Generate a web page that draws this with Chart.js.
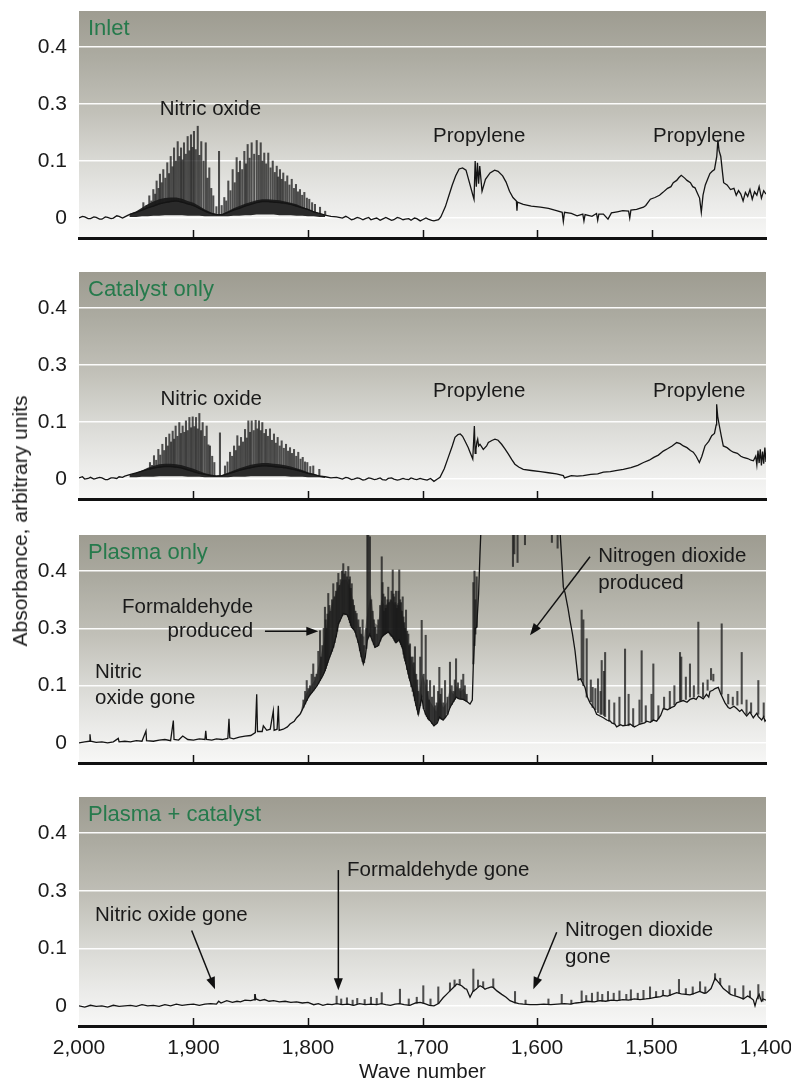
<!DOCTYPE html>
<html>
<head>
<meta charset="utf-8">
<script src="https://cdn.jsdelivr.net/npm/chart.js@4.4.1/dist/chart.umd.min.js"></script>
<style>
  html, body { margin: 0; padding: 0; background: #fff; overflow: hidden; }
  #wrap { position: relative; width: 791px; height: 1080px; font-family: "Liberation Sans", Arial, sans-serif; }
  #wrap canvas { position: absolute; left: 0; }
  #ylab { position: absolute; left: 20px; top: 521px; transform: translate(-50%, -50%) rotate(-90deg);
          white-space: nowrap; font-size: 21px; color: #1a1a1a; }
</style>
</head>
<body>
<div id="wrap">
  <canvas id="p1" width="791" height="250" style="top:0px"></canvas>
  <canvas id="p2" width="791" height="250" style="top:260px"></canvas>
  <canvas id="p3" width="791" height="255" style="top:520px"></canvas>
  <canvas id="p4" width="791" height="306" style="top:780px"></canvas>
  <div id="ylab">Absorbance, arbitrary units</div>
</div>
<script>
// axis ticks
const waveTicks = [2000, 1900, 1800, 1700, 1600, 1500, 1400];
const waveTickLabels = ['2,000', '1,900', '1,800', '1,700', '1,600', '1,500', '1,400'];
const absTicks = [0, 0.1, 0.2, 0.3];
const absTickLabels = ['0', '0.1', '0.3', '0.4'];
const panelTitles = ['Inlet', 'Catalyst only', 'Plasma only', 'Plasma + catalyst'];

// --- Inlet: trace, NO rotational lines, dense band under them ---
const inletX = [2000,1997,1995,1992,1990,1987,1985,1982,1980,1977,1975,1972,1970,1967,1965,1962,1960,1957,1955,1950,1945,1940,1935,1930,1925,1920,1915,1910,1905,1900,1895,1890,1885,1880,1875,1870,1865,1860,1855,1850,1845,1840,1835,1830,1825,1820,1815,1810,1805,1800,1795,1790,1785,1780,1775,1770,1767,1765,1762,1760,1757,1755,1752,1750,1747,1745,1742,1740,1737,1735,1732,1730,1727,1725,1722,1720,1717,1715,1712,1710,1707,1705,1702,1700,1697,1695,1692,1690,1686,1684,1680,1677,1674,1671,1668,1665,1662,1659,1656,1655,1654,1653,1652,1651,1650,1648,1645,1641,1637,1634,1630,1627,1624,1621,1618,1617.5,1617,1612,1605,1597,1590,1583,1578,1577,1576,1570,1565,1560,1559,1558,1552,1548,1547,1546,1542,1538,1535,1530,1525,1520,1519,1518,1513,1507,1505,1501,1497,1493,1490,1486,1483,1481,1478,1476,1474,1471,1469,1466,1464,1462,1460,1458,1456.5,1455,1453,1451,1449,1447,1445,1443,1442,1441,1439.5,1438,1437,1434,1431,1428,1426,1424,1422,1420,1418,1416,1414,1412,1410,1408,1406,1404,1402,1400];
const inletY = [0.000,0.003,0.002,-0.001,-0.001,0.002,0.001,-0.002,-0.002,0.002,0.001,-0.001,0.000,0.004,0.003,0.000,0.002,0.005,0.007,0.010,0.014,0.018,0.021,0.025,0.027,0.029,0.030,0.028,0.025,0.022,0.017,0.012,0.008,0.006,0.006,0.010,0.014,0.017,0.021,0.024,0.027,0.029,0.029,0.028,0.027,0.026,0.024,0.021,0.018,0.015,0.011,0.008,0.005,0.003,0.002,0.000,0.003,0.001,-0.003,-0.002,0.001,0.000,-0.003,-0.001,0.001,-0.003,-0.001,0.000,-0.004,-0.002,0.001,-0.001,-0.004,-0.003,0.001,0.000,-0.003,-0.002,-0.001,-0.004,0.000,-0.001,-0.005,-0.003,0.000,-0.002,-0.004,-0.005,-0.003,0.002,0.020,0.039,0.058,0.074,0.086,0.088,0.084,0.062,0.040,0.033,0.100,0.055,0.097,0.060,0.091,0.047,0.068,0.079,0.084,0.082,0.074,0.063,0.047,0.036,0.030,0.013,0.028,0.024,0.021,0.019,0.017,0.013,0.010,-0.006,0.010,0.008,0.004,0.007,-0.005,0.006,0.003,0.008,-0.004,0.007,0.007,-0.002,0.009,0.011,0.013,0.012,0.000,0.014,0.015,0.019,0.022,0.033,0.036,0.040,0.045,0.052,0.055,0.062,0.066,0.071,0.075,0.070,0.066,0.062,0.055,0.053,0.044,0.035,0.010,0.040,0.058,0.068,0.078,0.082,0.085,0.108,0.137,0.118,0.108,0.080,0.062,0.058,0.050,0.052,0.040,0.048,0.042,0.030,0.045,0.038,0.050,0.033,0.046,0.040,0.055,0.035,0.048,0.042];
const inletLineX = [1943.8,1941.0,1938.6,1936.8,1935.1,1933.5,1932.2,1930.6,1929.3,1927.8,1926.4,1924.6,1922.9,1921.4,1919.9,1918.4,1917.0,1915.4,1913.8,1912.3,1910.9,1909.6,1908.3,1906.7,1905.1,1903.6,1902.2,1900.9,1899.6,1898.0,1896.3,1894.8,1893.2,1891.2,1889.3,1887.8,1886.2,1884.5,1882.7,1880.0,1877.7,1875.4,1873.1,1871.4,1869.6,1867.7,1865.8,1864.0,1862.3,1860.8,1859.4,1857.5,1855.6,1854.2,1852.7,1851.0,1849.2,1847.0,1844.8,1843.0,1841.3,1839.8,1838.2,1836.5,1834.7,1832.7,1830.8,1829.0,1827.3,1826.0,1824.5,1823.0,1821.6,1819.8,1818.1,1816.2,1814.2,1812.3,1810.5,1808.8,1807.0,1805.1,1803.2,1801.0,1798.9,1796.4,1793.9,1789.5,1785.0];
const inletLineLow = [0.015,0.017,0.019,0.020,0.021,0.022,0.023,0.024,0.025,0.026,0.027,0.027,0.028,0.028,0.029,0.029,0.030,0.030,0.030,0.029,0.028,0.027,0.027,0.026,0.025,0.024,0.024,0.022,0.021,0.020,0.019,0.017,0.015,0.013,0.011,0.010,0.009,0.008,0.007,0.006,0.006,0.006,0.007,0.008,0.010,0.012,0.013,0.015,0.016,0.017,0.018,0.020,0.021,0.022,0.023,0.024,0.025,0.026,0.027,0.028,0.029,0.029,0.029,0.029,0.029,0.028,0.028,0.027,0.027,0.027,0.027,0.026,0.026,0.025,0.025,0.024,0.024,0.022,0.021,0.020,0.019,0.018,0.017,0.015,0.014,0.012,0.010,0.008,0.005];
const inletLineHigh = [0.027,0.022,0.039,0.030,0.050,0.042,0.065,0.052,0.077,0.062,0.085,0.070,0.097,0.078,0.108,0.090,0.123,0.100,0.134,0.108,0.123,0.102,0.132,0.112,0.143,0.118,0.146,0.124,0.152,0.120,0.161,0.110,0.134,0.100,0.132,0.070,0.088,0.052,0.039,0.020,0.117,0.022,0.036,0.030,0.065,0.048,0.085,0.062,0.106,0.080,0.100,0.085,0.117,0.095,0.129,0.105,0.132,0.112,0.136,0.110,0.132,0.100,0.114,0.095,0.114,0.088,0.100,0.080,0.091,0.072,0.085,0.068,0.079,0.064,0.074,0.058,0.068,0.052,0.059,0.046,0.050,0.040,0.045,0.035,0.033,0.027,0.024,0.019,0.012];
const inletBandX = [1956,1950,1945,1940,1935,1930,1925,1920,1915,1910,1905,1900,1895,1890,1885,1880,1875,1870,1865,1860,1855,1850,1845,1840,1835,1830,1825,1820,1815,1810,1805,1800,1795,1790,1785];
const inletBandLow = [0.002,0.002,0.003,0.003,0.004,0.004,0.005,0.005,0.005,0.005,0.004,0.004,0.004,0.003,0.003,0.003,0.003,0.003,0.004,0.004,0.005,0.005,0.006,0.006,0.006,0.006,0.005,0.005,0.005,0.004,0.004,0.003,0.003,0.002,0.002];
const inletBandHigh = [0.007,0.012,0.018,0.024,0.029,0.033,0.035,0.036,0.036,0.034,0.030,0.027,0.021,0.015,0.010,0.007,0.007,0.012,0.017,0.021,0.025,0.028,0.031,0.033,0.033,0.032,0.031,0.029,0.027,0.024,0.020,0.016,0.012,0.008,0.005];

// --- Catalyst only ---
const catalystX = [2000,1997,1995,1992,1990,1987,1985,1982,1980,1977,1975,1972,1970,1967,1965,1962,1960,1955,1950,1945,1940,1935,1930,1925,1920,1915,1910,1905,1900,1895,1890,1885,1880,1875,1870,1865,1860,1855,1850,1845,1840,1835,1830,1825,1820,1815,1810,1805,1800,1795,1790,1785,1780,1775,1770,1767,1765,1762,1760,1757,1755,1752,1750,1747,1745,1742,1740,1737,1735,1732,1730,1727,1725,1722,1720,1717,1715,1712,1710,1707,1705,1702,1700,1696,1693,1690,1687,1684.7,1681,1677.5,1674,1671.6,1669,1667,1665,1663,1660,1658.5,1656.1,1654.7,1654,1653.3,1652.5,1651.8,1651,1649.8,1646.9,1644,1642.5,1639,1636.7,1634,1630.9,1628,1625.1,1622,1619.3,1616,1612,1605,1597,1590,1583,1577,1576,1570,1565,1559.6,1553,1547,1542,1536,1530,1524.6,1518,1512,1507,1502,1498,1494,1489.7,1486,1482,1478,1475,1472.2,1469,1466,1463.5,1461,1458.2,1456,1453.3,1450,1447.4,1445,1443.5,1443.1,1442.2,1440.7,1439,1437.3,1434,1431,1428.5,1425,1422,1419.8,1416,1413,1411,1409,1408,1407,1406,1405,1404,1403,1402,1401,1400];
const catalystY = [0.002,0.004,0.000,0.001,0.003,0.000,0.001,0.003,0.002,-0.001,-0.001,0.002,0.002,0.001,0.004,0.003,0.005,0.008,0.011,0.014,0.017,0.019,0.021,0.022,0.022,0.021,0.019,0.016,0.013,0.010,0.008,0.006,0.005,0.006,0.009,0.012,0.015,0.018,0.020,0.022,0.023,0.023,0.022,0.021,0.020,0.018,0.016,0.013,0.010,0.008,0.005,0.004,0.002,0.003,0.000,0.003,0.002,-0.001,0.000,0.002,0.001,-0.002,-0.001,0.002,0.001,-0.001,0.000,0.002,-0.001,-0.002,0.001,0.002,0.000,-0.002,-0.001,0.001,0.000,-0.001,0.002,0.000,-0.001,0.001,0.000,-0.002,0.001,-0.004,0.000,0.003,0.018,0.038,0.058,0.073,0.078,0.079,0.075,0.067,0.055,0.047,0.035,0.093,0.045,0.052,0.065,0.070,0.058,0.061,0.052,0.058,0.064,0.068,0.070,0.068,0.061,0.053,0.044,0.034,0.026,0.021,0.017,0.015,0.013,0.011,0.009,0.006,0.002,0.006,0.005,0.006,0.008,0.009,0.012,0.013,0.015,0.017,0.020,0.024,0.029,0.033,0.038,0.042,0.049,0.053,0.058,0.064,0.062,0.058,0.055,0.050,0.047,0.040,0.029,0.040,0.058,0.066,0.076,0.080,0.095,0.131,0.110,0.093,0.075,0.058,0.055,0.050,0.047,0.045,0.040,0.038,0.036,0.033,0.032,0.040,0.025,0.050,0.028,0.052,0.024,0.048,0.027,0.055,0.030];
const catalystLineX = [1938.0,1936.2,1934.5,1932.6,1930.7,1929.0,1927.2,1925.6,1924.0,1922.5,1921.1,1919.6,1918.2,1916.9,1915.6,1914.0,1912.4,1911.0,1909.5,1908.0,1906.6,1905.1,1903.6,1902.1,1900.7,1899.2,1897.8,1896.3,1894.9,1893.4,1892.0,1890.2,1888.5,1887.0,1885.6,1883.7,1881.8,1876.9,1872.5,1870.3,1868.1,1866.3,1864.6,1863.1,1861.7,1860.1,1858.5,1856.8,1855.0,1853.5,1852.1,1850.6,1849.2,1847.4,1845.7,1844.2,1842.8,1841.3,1839.9,1838.2,1836.7,1835.0,1833.2,1831.5,1829.7,1828.1,1826.5,1824.7,1823.0,1821.1,1819.2,1817.4,1815.7,1814.0,1812.2,1810.3,1808.5,1806.5,1804.6,1802.6,1800.6,1798.0,1795.4,1790.1];
const catalystLineLow = [0.017,0.018,0.019,0.020,0.021,0.021,0.022,0.022,0.022,0.022,0.022,0.022,0.022,0.021,0.021,0.021,0.020,0.020,0.019,0.018,0.017,0.016,0.015,0.014,0.013,0.012,0.011,0.011,0.010,0.010,0.009,0.008,0.008,0.007,0.006,0.006,0.005,0.006,0.008,0.009,0.011,0.011,0.012,0.013,0.014,0.015,0.016,0.017,0.018,0.018,0.019,0.019,0.020,0.021,0.022,0.022,0.022,0.023,0.023,0.023,0.023,0.022,0.022,0.022,0.022,0.021,0.021,0.020,0.020,0.019,0.019,0.018,0.018,0.017,0.016,0.015,0.014,0.013,0.012,0.011,0.010,0.009,0.008,0.005];
const catalystLineHigh = [0.029,0.024,0.041,0.033,0.052,0.042,0.061,0.050,0.073,0.058,0.079,0.065,0.084,0.070,0.093,0.075,0.099,0.080,0.093,0.082,0.102,0.085,0.108,0.090,0.109,0.092,0.108,0.088,0.115,0.085,0.099,0.075,0.093,0.060,0.058,0.040,0.029,0.081,0.023,0.030,0.047,0.040,0.058,0.050,0.076,0.058,0.073,0.065,0.087,0.072,0.102,0.082,0.102,0.085,0.103,0.088,0.102,0.085,0.099,0.080,0.087,0.075,0.088,0.068,0.079,0.063,0.073,0.058,0.067,0.054,0.061,0.049,0.055,0.045,0.052,0.040,0.047,0.035,0.038,0.030,0.029,0.022,0.023,0.017];
const catalystBandX = [1956,1950,1945,1940,1935,1930,1925,1920,1915,1910,1905,1900,1895,1890,1885,1880,1875,1870,1865,1860,1855,1850,1845,1840,1835,1830,1825,1820,1815,1810,1805,1800,1795,1790,1785];
const catalystBandLow = [0.003,0.003,0.004,0.004,0.004,0.005,0.005,0.005,0.005,0.005,0.004,0.004,0.004,0.003,0.003,0.003,0.003,0.003,0.004,0.004,0.004,0.005,0.005,0.005,0.005,0.005,0.005,0.005,0.004,0.004,0.004,0.003,0.003,0.003,0.002];
const catalystBandHigh = [0.007,0.011,0.015,0.020,0.023,0.026,0.027,0.027,0.026,0.024,0.021,0.018,0.014,0.010,0.008,0.006,0.007,0.011,0.015,0.019,0.022,0.025,0.027,0.028,0.028,0.027,0.026,0.024,0.022,0.019,0.016,0.012,0.009,0.006,0.005];

// --- Plasma only ---
const plasmaX = [2000,1995,1991,1990.4,1989.8,1985,1980,1975,1970,1965.7,1965,1960,1955,1950,1945,1941.5,1941,1935,1930,1925,1920,1917.6,1917,1913,1909.4,1905,1900,1895,1890,1889.3,1888.6,1884,1880,1875,1870,1869,1868.3,1865,1860,1855,1850,1846,1844.8,1844.1,1840,1839,1836,1833,1830.3,1829.6,1827,1825.9,1825.2,1821.6,1818,1815.7,1812,1809.9,1807,1804.1,1801.1,1799,1795.4,1792,1789.5,1787,1785.2,1782,1777.9,1775,1773.5,1771,1769.2,1766,1764.8,1761.8,1758.9,1756,1754.6,1751.7,1750,1748.2,1746,1743,1741.5,1738.6,1735.6,1732.8,1729.9,1726,1723.1,1720.3,1717.3,1714.4,1710.9,1708,1706.6,1703.7,1700.7,1699,1697.2,1695,1693.4,1690,1687,1685.3,1682,1680.3,1678,1676,1673,1670.7,1668,1664.4,1661,1658.5,1656.5,1655.6,1654,1652.7,1651,1649.8,1648,1646,1640,1630,1620,1600,1590,1582,1579.9,1577,1575.5,1573,1571.2,1569,1566.8,1564,1562,1558.1,1556,1553.7,1550,1547.9,1545,1542,1539.1,1536,1534.7,1532,1530.4,1527,1525,1521,1518.8,1515,1512.9,1510,1506,1504.2,1501,1498.4,1495.5,1492,1489.7,1486,1482.4,1480,1478,1475,1472.2,1469,1466.4,1463.5,1461,1459,1457,1454.8,1452,1450,1448.9,1446.5,1444.5,1441.7,1440,1437,1435.8,1433,1431.4,1428,1425.6,1423,1421.2,1419,1416.9,1414,1411.1,1408,1406.7,1403.8,1402,1400.9,1400];
const plasmaY = [0.000,0.002,0.003,0.015,0.003,0.001,0.002,0.000,0.002,0.008,0.002,0.003,0.002,0.004,0.003,0.021,0.004,0.003,0.005,0.006,0.004,0.039,0.006,0.005,0.012,0.006,0.005,0.007,0.006,0.021,0.006,0.005,0.007,0.006,0.008,0.042,0.009,0.007,0.010,0.012,0.013,0.018,0.085,0.020,0.020,0.030,0.022,0.024,0.056,0.022,0.024,0.065,0.022,0.024,0.028,0.033,0.038,0.044,0.050,0.062,0.074,0.082,0.091,0.100,0.109,0.118,0.126,0.145,0.167,0.190,0.208,0.218,0.226,0.224,0.220,0.202,0.195,0.175,0.161,0.138,0.150,0.180,0.190,0.175,0.167,0.170,0.185,0.190,0.194,0.185,0.175,0.180,0.165,0.138,0.109,0.090,0.074,0.050,0.080,0.060,0.050,0.042,0.039,0.030,0.035,0.045,0.040,0.044,0.050,0.062,0.072,0.080,0.077,0.076,0.072,0.068,0.075,0.138,0.200,0.202,0.260,0.330,0.420,0.500,0.600,0.620,0.600,0.620,0.600,0.520,0.370,0.272,0.262,0.236,0.214,0.190,0.161,0.110,0.112,0.097,0.080,0.070,0.060,0.050,0.047,0.044,0.040,0.038,0.035,0.033,0.028,0.032,0.030,0.031,0.033,0.028,0.030,0.033,0.035,0.038,0.036,0.040,0.038,0.048,0.060,0.058,0.062,0.064,0.070,0.072,0.074,0.071,0.076,0.078,0.076,0.082,0.080,0.077,0.085,0.080,0.090,0.092,0.095,0.097,0.088,0.075,0.070,0.062,0.060,0.064,0.060,0.055,0.058,0.052,0.047,0.054,0.044,0.052,0.046,0.040,0.046,0.038,0.040];
const plasmaLineX = [1804.0,1802.5,1801.1,1799.7,1798.3,1796.8,1795.4,1794.0,1792.5,1791.0,1789.5,1788.5,1787.5,1786.3,1785.2,1784.5,1783.8,1783.0,1782.3,1781.3,1780.3,1779.0,1777.9,1776.8,1775.6,1774.5,1773.5,1772.5,1771.5,1770.3,1769.2,1768.2,1767.2,1766.0,1764.8,1764.0,1763.4,1762.6,1761.8,1760.8,1759.8,1758.6,1757.5,1756.0,1754.6,1753.4,1752.3,1751.0,1749.0,1748.2,1747.3,1745.9,1744.8,1743.6,1742.5,1741.5,1740.0,1738.6,1737.0,1735.6,1734.9,1734.2,1733.5,1732.8,1732.0,1731.3,1730.6,1729.9,1729.0,1727.9,1727.0,1726.0,1725.3,1724.6,1723.8,1723.1,1722.4,1721.7,1721.0,1720.3,1719.5,1718.8,1718.0,1717.3,1716.6,1715.9,1715.2,1714.4,1713.4,1712.4,1711.6,1710.9,1709.8,1708.6,1707.6,1706.6,1705.5,1704.5,1703.7,1702.0,1700.7,1699.0,1697.2,1696.2,1695.2,1694.3,1693.4,1691.7,1690.0,1688.8,1687.6,1686.4,1685.3,1684.3,1683.3,1681.8,1680.3,1678.2,1676.0,1674.5,1673.0,1671.8,1670.7,1669.0,1667.2,1666.0,1664.4,1663.0,1661.4,1655.6,1654.6,1653.8,1652.7,1621.0,1619.8,1617.0,1610.5,1587.0,1582.0,1561.0,1559.5,1556.6,1553.0,1551.4,1549.0,1546.7,1544.5,1543.5,1541.5,1540.5,1537.0,1532.5,1528.0,1523.1,1520.0,1516.0,1510.5,1508.6,1505.0,1500.0,1498.4,1494.0,1489.0,1484.0,1480.0,1475.1,1474.0,1470.0,1466.4,1463.0,1459.1,1455.0,1451.0,1448.0,1446.0,1438.7,1433.0,1429.0,1425.0,1421.2,1417.0,1413.0,1406.7,1402.0];
const plasmaLineLow = [0.062,0.068,0.074,0.080,0.084,0.088,0.091,0.095,0.100,0.104,0.109,0.113,0.118,0.122,0.126,0.130,0.135,0.140,0.145,0.150,0.155,0.160,0.167,0.175,0.185,0.195,0.208,0.212,0.218,0.222,0.226,0.225,0.224,0.224,0.220,0.215,0.210,0.205,0.202,0.200,0.198,0.193,0.185,0.175,0.161,0.150,0.142,0.140,0.165,0.180,0.185,0.190,0.185,0.178,0.172,0.167,0.168,0.170,0.178,0.185,0.187,0.188,0.189,0.190,0.191,0.192,0.193,0.194,0.192,0.188,0.186,0.185,0.182,0.179,0.176,0.175,0.177,0.178,0.179,0.180,0.176,0.172,0.168,0.165,0.155,0.148,0.143,0.138,0.128,0.120,0.113,0.109,0.098,0.090,0.082,0.074,0.065,0.058,0.050,0.065,0.080,0.060,0.050,0.046,0.042,0.040,0.039,0.034,0.030,0.032,0.035,0.040,0.045,0.043,0.041,0.042,0.044,0.050,0.062,0.067,0.072,0.076,0.080,0.078,0.077,0.076,0.076,0.074,0.072,0.138,0.170,0.190,0.202,0.308,0.330,0.315,0.346,0.350,0.340,0.110,0.100,0.080,0.072,0.062,0.058,0.053,0.050,0.050,0.048,0.046,0.038,0.034,0.031,0.032,0.030,0.029,0.033,0.036,0.037,0.037,0.040,0.042,0.060,0.060,0.066,0.074,0.074,0.076,0.080,0.080,0.085,0.080,0.092,0.110,0.108,0.085,0.068,0.066,0.066,0.068,0.050,0.052,0.050,0.046];
const plasmaLineHigh = [0.075,0.090,0.109,0.095,0.100,0.120,0.138,0.115,0.120,0.160,0.196,0.150,0.170,0.200,0.237,0.215,0.200,0.225,0.261,0.240,0.230,0.250,0.278,0.255,0.265,0.280,0.296,0.275,0.285,0.300,0.313,0.295,0.300,0.290,0.308,0.285,0.290,0.270,0.278,0.250,0.240,0.230,0.226,0.215,0.202,0.190,0.215,0.170,0.200,0.500,0.420,0.360,0.250,0.230,0.215,0.202,0.190,0.215,0.240,0.325,0.280,0.260,0.230,0.255,0.235,0.240,0.250,0.272,0.245,0.250,0.265,0.302,0.260,0.255,0.245,0.265,0.235,0.240,0.265,0.302,0.250,0.245,0.230,0.255,0.220,0.210,0.200,0.232,0.195,0.190,0.170,0.173,0.150,0.150,0.140,0.168,0.120,0.110,0.090,0.150,0.214,0.120,0.188,0.110,0.090,0.075,0.109,0.080,0.100,0.065,0.070,0.090,0.132,0.085,0.095,0.070,0.109,0.080,0.141,0.100,0.090,0.110,0.147,0.105,0.095,0.110,0.120,0.100,0.085,0.280,0.300,0.250,0.290,0.500,0.500,0.500,0.500,0.500,0.500,0.232,0.215,0.182,0.110,0.097,0.095,0.112,0.090,0.144,0.125,0.158,0.075,0.070,0.080,0.164,0.085,0.060,0.075,0.161,0.065,0.085,0.138,0.065,0.080,0.090,0.100,0.158,0.150,0.115,0.138,0.100,0.211,0.105,0.110,0.130,0.120,0.208,0.085,0.080,0.090,0.158,0.075,0.070,0.109,0.070];
const plasmaBandX = [1806,1802,1798,1794,1790,1786,1782,1778,1774,1770,1766,1762,1758,1754,1751,1748,1745,1742,1739,1736,1733,1730,1727,1724,1721,1718,1715,1712,1709,1706,1703,1700,1697,1694,1691,1688,1685,1682,1679,1676,1673,1670,1667,1664,1661];
const plasmaBandLow = [0.050,0.070,0.084,0.096,0.107,0.122,0.145,0.167,0.200,0.222,0.224,0.202,0.192,0.158,0.140,0.180,0.188,0.170,0.168,0.182,0.189,0.194,0.188,0.178,0.178,0.168,0.146,0.122,0.098,0.075,0.050,0.078,0.050,0.041,0.033,0.034,0.045,0.040,0.050,0.062,0.072,0.080,0.077,0.076,0.072];
const plasmaBandHigh = [0.060,0.085,0.098,0.110,0.140,0.180,0.225,0.250,0.270,0.285,0.285,0.262,0.225,0.190,0.185,0.230,0.260,0.210,0.205,0.250,0.240,0.245,0.250,0.240,0.245,0.230,0.200,0.170,0.140,0.120,0.085,0.120,0.100,0.075,0.065,0.055,0.080,0.062,0.070,0.095,0.085,0.100,0.090,0.095,0.080];

// --- Plasma + catalyst ---
const comboX = [2000,1995,1990,1985,1980,1975,1970,1965,1960,1955,1950,1945,1940,1935,1930,1925,1920,1915,1910,1905,1900,1895,1890,1885,1880,1878,1876,1871,1866,1862,1859,1855,1850,1847,1846.3,1845.5,1842,1838,1834,1830,1825,1820,1815,1810,1805,1800,1795,1791,1787,1783,1779,1775,1770,1765,1760,1755,1750,1745,1740,1736,1732,1728,1724,1720,1716,1711,1706,1702,1698,1694,1690,1686,1682,1679,1676,1673,1670,1667,1665.8,1663,1661.4,1658.5,1656,1653.3,1651,1649.8,1647,1645.4,1643,1640,1638.2,1635,1630.8,1627,1623.6,1620,1616,1612,1606,1600,1594,1588,1582,1576,1571,1566,1561,1556,1550,1545,1540,1535,1530,1525,1520,1515,1510,1505,1501,1496,1492,1489.7,1486,1482,1478,1474,1470,1466.4,1462,1458,1454,1451.8,1448,1446,1444.5,1442,1440.2,1437.3,1434,1431,1428.5,1425,1422,1419.8,1416,1414,1411,1409.6,1408,1406,1404,1402.4,1400];
const comboY = [0.000,-0.002,0.001,-0.001,0.000,-0.002,0.001,-0.001,0.000,0.001,-0.001,0.002,0.000,0.001,-0.001,0.002,0.000,0.003,0.001,0.002,0.003,0.001,0.003,0.004,0.003,0.008,0.005,0.009,0.006,0.008,0.007,0.010,0.009,0.011,0.020,0.012,0.009,0.011,0.008,0.009,0.007,0.008,0.006,0.007,0.005,0.006,0.002,0.004,0.001,0.003,0.002,0.004,0.002,0.003,0.001,0.004,0.002,0.003,0.002,0.004,0.002,0.001,0.003,0.004,0.002,0.001,0.005,0.006,0.004,0.001,0.000,0.004,0.014,0.020,0.026,0.032,0.038,0.036,0.035,0.030,0.029,0.015,0.025,0.029,0.033,0.035,0.032,0.029,0.031,0.033,0.032,0.026,0.020,0.015,0.009,0.006,0.004,0.003,0.002,0.002,0.003,0.002,0.003,0.004,0.003,0.005,0.006,0.008,0.007,0.009,0.008,0.010,0.009,0.011,0.010,0.012,0.011,0.012,0.013,0.015,0.016,0.018,0.017,0.020,0.023,0.021,0.020,0.019,0.022,0.025,0.022,0.023,0.030,0.040,0.048,0.042,0.038,0.030,0.025,0.020,0.018,0.016,0.014,0.012,0.017,0.015,0.010,0.000,0.012,0.020,0.008,0.012,0.010];
const comboLineX = [1846.3,1775,1771,1766,1761,1757,1750.5,1745,1740,1735.6,1719.7,1712,1705,1699.3,1693,1686.2,1676,1672,1667.5,1655.6,1651.5,1647,1638.2,1619.2,1610,1590,1578.4,1570,1561,1557,1552,1547,1543,1538,1533,1528,1522,1518,1512,1507,1501.3,1496,1490,1484,1476,1470,1464,1457.6,1453,1444.5,1440,1432,1427,1419.8,1414,1406.7,1403];
const comboLineLow = [0.010,0.004,0.002,0.003,0.001,0.004,0.002,0.003,0.002,0.004,0.004,0.001,0.005,0.005,0.001,0.004,0.026,0.034,0.037,0.025,0.033,0.032,0.032,0.005,0.003,0.002,0.004,0.003,0.006,0.008,0.007,0.009,0.008,0.009,0.010,0.010,0.011,0.010,0.011,0.012,0.013,0.015,0.018,0.018,0.022,0.020,0.020,0.025,0.022,0.045,0.038,0.022,0.018,0.012,0.014,0.012,0.008];
const comboLineHigh = [0.020,0.017,0.012,0.014,0.010,0.013,0.011,0.015,0.013,0.023,0.029,0.012,0.015,0.035,0.012,0.033,0.040,0.045,0.046,0.064,0.045,0.042,0.047,0.025,0.010,0.012,0.020,0.010,0.026,0.018,0.022,0.024,0.020,0.025,0.022,0.026,0.020,0.028,0.022,0.027,0.033,0.025,0.027,0.028,0.046,0.030,0.033,0.042,0.033,0.056,0.048,0.035,0.030,0.035,0.026,0.037,0.025];

// annotations, in wave number / absorbance units
const inletNotes = [
  { text: 'Nitric oxide', x: 1885.2, y: 0.190, align: 'center' },
  { text: 'Propylene', x: 1650.5, y: 0.143, align: 'center' },
  { text: 'Propylene', x: 1458.3, y: 0.143, align: 'center' }
];
const catalystNotes = [
  { text: 'Nitric oxide', x: 1884.5, y: 0.140, align: 'center' },
  { text: 'Propylene', x: 1650.5, y: 0.154, align: 'center' },
  { text: 'Propylene', x: 1458.3, y: 0.154, align: 'center' }
];
const plasmaNotes = [
  { text: 'Formaldehyde', x: 1848, y: 0.237, align: 'right' },
  { text: 'produced', x: 1848, y: 0.194, align: 'right' },
  { text: 'Nitric', x: 1986, y: 0.123, align: 'left' },
  { text: 'oxide gone', x: 1986, y: 0.077, align: 'left' },
  { text: 'Nitrogen dioxide', x: 1546.5, y: 0.325, align: 'left' },
  { text: 'produced', x: 1546.5, y: 0.278, align: 'left' }
];
const plasmaArrows = [
  { from: [1837.6, 0.195], to: [1791.0, 0.195] },
  { from: [1553.7, 0.325], to: [1606.1, 0.188] }
];
const comboNotes = [
  { text: 'Nitric oxide gone', x: 1986, y: 0.157, align: 'left' },
  { text: 'Formaldehyde gone', x: 1765.9, y: 0.236, align: 'left' },
  { text: 'Nitrogen dioxide', x: 1575.5, y: 0.131, align: 'left' },
  { text: 'gone', x: 1575.5, y: 0.084, align: 'left' }
];
const comboArrows = [
  { from: [1901.6, 0.131], to: [1881.2, 0.029] },
  { from: [1773.5, 0.236], to: [1773.5, 0.027] },
  { from: [1582.8, 0.128], to: [1603.2, 0.029] }
];

const FONT = '"Liberation Sans", Arial, sans-serif';
Chart.defaults.font.family = FONT;
Chart.defaults.color = '#1a1a1a';

function drawArrow(ctx, x1, y1, x2, y2) {
  const ang = Math.atan2(y2 - y1, x2 - x1);
  const len = 12, half = 4.5;
  ctx.save();
  ctx.strokeStyle = '#111';
  ctx.fillStyle = '#111';
  ctx.lineWidth = 1.5;
  ctx.beginPath();
  ctx.moveTo(x1, y1);
  ctx.lineTo(x2 - Math.cos(ang) * len * 0.8, y2 - Math.sin(ang) * len * 0.8);
  ctx.stroke();
  ctx.beginPath();
  ctx.moveTo(x2, y2);
  ctx.lineTo(x2 - Math.cos(ang) * len - Math.sin(ang) * half, y2 - Math.sin(ang) * len + Math.cos(ang) * half);
  ctx.lineTo(x2 - Math.cos(ang) * len + Math.sin(ang) * half, y2 - Math.sin(ang) * len - Math.cos(ang) * half);
  ctx.closePath();
  ctx.fill();
  ctx.restore();
}

function decor(title, notes, arrows) {
  return {
    id: 'decor',
    beforeDraw(chart) {
      const { ctx, chartArea: a } = chart;
      const g = ctx.createLinearGradient(0, a.top, 0, a.bottom);
      g.addColorStop(0, '#9e9c91');
      g.addColorStop(0.2, '#acaba1');
      g.addColorStop(0.45, '#c2c1b9');
      g.addColorStop(0.65, '#d8d8d3');
      g.addColorStop(0.85, '#ebebe9');
      g.addColorStop(1, '#f7f7f6');
      ctx.save();
      ctx.fillStyle = g;
      ctx.fillRect(a.left, a.top, a.right - a.left, a.bottom - a.top);
      ctx.restore();
    },
    afterDatasetsDraw(chart) {
      const { ctx, chartArea: a, scales: { x, y } } = chart;
      ctx.save();
      // inward tick marks on the wave-number axis
      ctx.strokeStyle = '#111';
      ctx.lineWidth = 1.5;
      waveTicks.slice(1, -1).forEach(v => {
        const px = Math.round(x.getPixelForValue(v)) + 0.5;
        ctx.beginPath();
        ctx.moveTo(px, a.bottom);
        ctx.lineTo(px, a.bottom - 8);
        ctx.stroke();
      });
      ctx.fillStyle = '#267a4c';
      ctx.font = '22px ' + FONT;
      ctx.textAlign = 'left';
      ctx.textBaseline = 'middle';
      ctx.fillText(title, a.left + 9, a.top + 18);
      ctx.fillStyle = '#1a1a1a';
      ctx.font = '20.5px ' + FONT;
      notes.forEach(n => {
        ctx.textAlign = n.align;
        ctx.fillText(n.text, x.getPixelForValue(n.x), y.getPixelForValue(n.y));
      });
      ctx.restore();
      arrows.forEach(ar => drawArrow(ctx,
        x.getPixelForValue(ar.from[0]), y.getPixelForValue(ar.from[1]),
        x.getPixelForValue(ar.to[0]), y.getPixelForValue(ar.to[1])));
    }
  };
}

function makePanel(id, p) {
  const trace = p.x.map((v, i) => ({ x: v, y: p.y[i] }));
  const lines = p.lineX.map((v, i) => ({ x: v, y: [p.lineLow[i], p.lineHigh[i]] }));
  const datasets = [
    { type: 'line', data: trace, borderColor: '#141414', borderWidth: 1.3, pointRadius: 0, tension: 0, order: 0 },
    { type: 'bar', data: lines, backgroundColor: 'rgba(25,25,25,0.75)', barThickness: 1.4, grouped: false, order: 1 }
  ];
  if (p.bandX) {
    // dense unresolved lines: filled between a low and a high edge
    datasets.push({ type: 'line', data: p.bandX.map((v, i) => ({ x: v, y: p.bandLow[i] })),
      borderColor: 'transparent', pointRadius: 0, fill: false, order: 2 });
    datasets.push({ type: 'line', data: p.bandX.map((v, i) => ({ x: v, y: p.bandHigh[i] })),
      borderColor: 'transparent', pointRadius: 0, fill: 2, backgroundColor: p.bandColor, order: 2 });
  }
  return new Chart(document.getElementById(id), {
    type: 'line',
    data: { datasets },
    options: {
      responsive: false,
      animation: false,
      events: [],
      layout: { padding: { top: p.padTop, right: 25, bottom: 0, left: 0 } },
      plugins: { legend: { display: false }, tooltip: { enabled: false } },
      scales: {
        x: {
          type: 'linear', reverse: true, min: 1400, max: 2000, offset: false,
          afterBuildTicks: s => { s.ticks = waveTicks.map(v => ({ value: v })); },
          afterFit: s => { s.height = p.axisH; s.paddingLeft = 0; s.paddingRight = 0; },
          grid: { display: true, drawOnChartArea: false, drawTicks: false, offset: false },
          border: { display: true, color: '#111', width: 3 },
          ticks: { display: p.showX, padding: 10, maxRotation: 0, autoSkip: false, font: { size: 21 },
                   callback: (v, i) => waveTickLabels[i] },
          title: { display: p.showX, text: 'Wave number', font: { size: 20.5, lineHeight: 1 }, padding: { top: 0, bottom: 3 } }
        },
        y: {
          min: -0.035, max: 0.363,
          afterBuildTicks: s => { s.ticks = absTicks.map(v => ({ value: v })); },
          afterFit: s => { s.width = 79; s.paddingTop = 0; s.paddingBottom = 0; },
          grid: { color: 'rgba(255,255,255,0.95)', lineWidth: 1.6, drawTicks: false },
          border: { display: false },
          ticks: { padding: 12, font: { size: 21 }, callback: (v, i) => absTickLabels[i] }
        }
      }
    },
    plugins: [decor(p.title, p.notes, p.arrows)]
  });
}

makePanel('p1', { x: inletX, y: inletY, lineX: inletLineX, lineLow: inletLineLow, lineHigh: inletLineHigh,
  bandX: inletBandX, bandLow: inletBandLow, bandHigh: inletBandHigh, bandColor: 'rgba(15,15,15,0.88)',
  title: panelTitles[0], notes: inletNotes, arrows: [], padTop: 11, axisH: 12, showX: false });
makePanel('p2', { x: catalystX, y: catalystY, lineX: catalystLineX, lineLow: catalystLineLow, lineHigh: catalystLineHigh,
  bandX: catalystBandX, bandLow: catalystBandLow, bandHigh: catalystBandHigh, bandColor: 'rgba(15,15,15,0.88)',
  title: panelTitles[1], notes: catalystNotes, arrows: [], padTop: 12, axisH: 11, showX: false });
makePanel('p3', { x: plasmaX, y: plasmaY, lineX: plasmaLineX, lineLow: plasmaLineLow, lineHigh: plasmaLineHigh,
  bandX: plasmaBandX, bandLow: plasmaBandLow, bandHigh: plasmaBandHigh, bandColor: 'rgba(25,25,25,0.45)',
  title: panelTitles[2], notes: plasmaNotes, arrows: plasmaArrows, padTop: 15, axisH: 12, showX: false });
makePanel('p4', { x: comboX, y: comboY, lineX: comboLineX, lineLow: comboLineLow, lineHigh: comboLineHigh,
  title: panelTitles[3], notes: comboNotes, arrows: comboArrows, padTop: 17, axisH: 60, showX: true });
</script>
</body>
</html>
